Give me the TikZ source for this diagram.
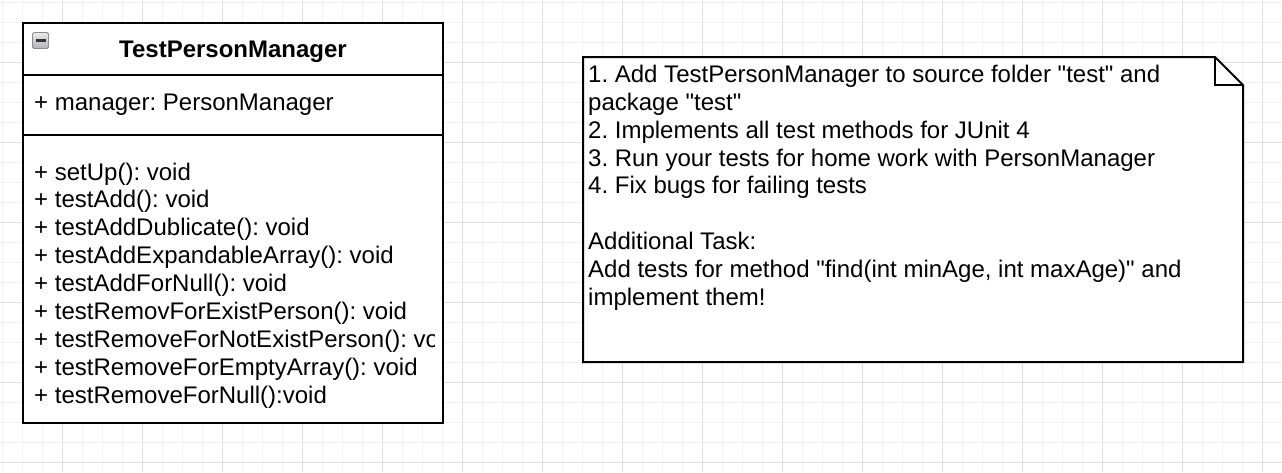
\documentclass[tikz,border=0pt]{standalone}
\usepackage{fontspec}
\setmainfont{Liberation Sans}[Ligatures=TeXOff]
\frenchspacing
\begin{document}
\begin{tikzpicture}[x=1pt,y=-1pt,
  minorgrid/.style={draw=black!5,line width=1pt},
  majorgrid/.style={draw=black!13,line width=1pt},
  border/.style={draw=black,line width=2pt},
  txt/.style={anchor=base west,inner sep=0pt,font=\fontsize{24}{28}\selectfont},
  titletxt/.style={anchor=base,inner sep=0pt,font=\fontsize{24}{28}\selectfont\bfseries}]
\useasboundingbox (0,0) rectangle (1282,472);
\fill[white] (0,0) rectangle (1282,472);
% grid
\foreach \i in {0,...,64} \draw[minorgrid] ({2.3+20*\i},0) -- ({2.3+20*\i},472);
\foreach \j in {0,...,23} \draw[minorgrid] (0,{2.3+20*\j}) -- (1282,{2.3+20*\j});
\foreach \i in {0,...,15} \draw[majorgrid] ({62.3+80*\i},0) -- ({62.3+80*\i},472);
\foreach \j in {0,...,5} \draw[majorgrid] (0,{62.3+80*\j}) -- (1282,{62.3+80*\j});
% class box
\node[border,fill=white,minimum width=420pt,minimum height=400pt,anchor=north west,inner sep=0pt,outer sep=0pt] (cls) at (23,23) {};
\draw[border] ([yshift=-52pt]cls.north west) -- ([yshift=-52pt]cls.north east);
\draw[border] ([yshift=-112pt]cls.north west) -- ([yshift=-112pt]cls.north east);
\node[draw=black!45,line width=0.8pt,rounded corners=1.5pt,minimum size=16pt,inner sep=0pt,
      top color=blue!5!black!8,bottom color=blue!10!black!30] (icon) at (40.5,40.5) {};
\draw[line width=2.2pt,black!80] ([xshift=-5pt]icon.center) -- ([xshift=5pt]icon.center);
\node[titletxt] (title) at (233,57.3) {TestPersonManager};
\node[txt] (attr) at (34,110) {+ manager: PersonManager};
\node[txt] (m1) at (34,180) {+ setUp(): void};
\node[txt] (m2) at (34,207.9) {+ testAdd(): void};
\node[txt] (m3) at (34,235.8) {+ testAddDublicate(): void};
\node[txt] (m4) at (34,263.7) {+ testAddExpandableArray(): void};
\node[txt] (m5) at (34,291.6) {+ testAddForNull(): void};
\node[txt] (m6) at (34,319.5) {+ testRemovForExistPerson(): void};
\begin{scope}
\clip (23,300) rectangle (434,360);
\node[txt] (m7) at (34,347.4) {+ testRemoveForNotExistPerson(): void};
\end{scope}
\node[txt] (m8) at (34,375.3) {+ testRemoveForEmptyArray(): void};
\node[txt] (m9) at (34,403.2) {+ testRemoveForNull():void};
% note
\coordinate (nNW) at (583,57);
\coordinate (nF1) at (1215,57);
\coordinate (nF2) at (1243,85);
\coordinate (nFC) at (1215,85);
\coordinate (nSE) at (1243,362);
\coordinate (nSW) at (583,362);
\draw[border,fill=white,line join=miter] (nNW) -- (nF1) -- (nF2) -- (nSE) -- (nSW) -- cycle;
\draw[border] (nF1) -- (nFC) -- (nF2);
\node[txt] (n1) at (588,82.3) {1. Add TestPersonManager to source folder "test" and};
\node[txt] (n2) at (588,110.2) {package "test"};
\node[txt] (n3) at (588,138.1) {2. Implements all test methods for JUnit 4};
\node[txt] (n4) at (588,166.0) {3. Run your tests for home work with PersonManager};
\node[txt] (n5) at (588,193.9) {4. Fix bugs for failing tests};
\node[txt] (n6) at (588,249.7) {Additional Task:};
\node[txt] (n7) at (588,277.6) {Add tests for method "find(int minAge, int maxAge)" and};
\node[txt] (n8) at (588,305.5) {implement them!};
\end{tikzpicture}
\end{document}
